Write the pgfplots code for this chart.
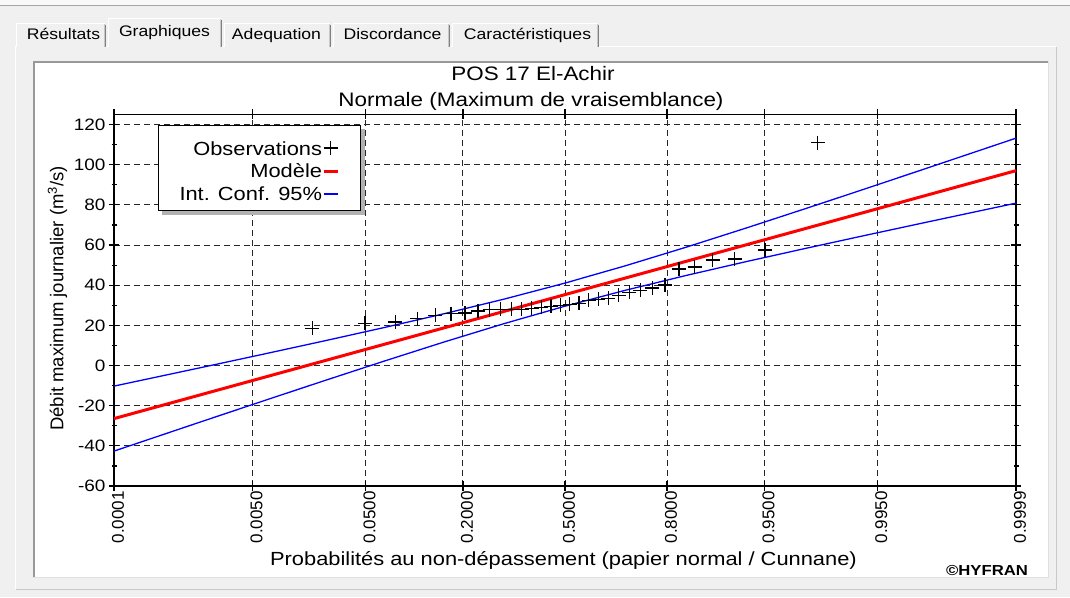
\documentclass[border=0pt]{standalone}
\usepackage{pgfplots}
\pgfplotsset{compat=1.18}
\usepackage{fontspec}
\setmainfont{Liberation Sans}[FakeStretch=1.15]
\newfontfamily\plainsans{Liberation Sans}
\definecolor{winbg}{HTML}{F0F0F0}
\definecolor{tabdark}{HTML}{808080}
\definecolor{tablight}{HTML}{C8C8C8}
\newcommand{\tabfont}{\fontsize{15.3}{15.3}\selectfont}
\newcommand{\tab}[2]{%
  \fill[winbg] (#1,550) rectangle (#2,573);
  \draw[white,line width=1pt] (#1+0.5,550) -- (#1+0.5,573) -- (#2-1,573);
  \draw[tablight,line width=1pt] (#2-1.5,550) -- (#2-1.5,572.5);
  \draw[tabdark,line width=1pt] (#2-0.5,550) -- (#2-0.5,572);
}
\pgfplotsset{
  linelegend/.style={legend image code/.code={\draw[##1] (0pt,6pt) -- (14pt,6pt);}},
  marklegend/.style={legend image code/.code={\draw[##1] plot coordinates {(7pt,7pt)};}},
}
\begin{document}
\begin{tikzpicture}[x=1pt,y=1pt]
\fill[winbg] (0,0) rectangle (1070,597);
\useasboundingbox (0,0) rectangle (1070,597);
% top strip
\fill[white!60!winbg] (0,592) rectangle (1070,597);
\draw[gray!70,line width=1pt] (0,591.5) -- (1070,591.5);
% panel
\draw[white,line width=1pt] (15.5,8) -- (15.5,550) -- (1056,550);
\draw[tablight,line width=1pt] (15.5,8) -- (1056,8) -- (1056,550);
% tabs
\tab{16}{106}
\tab{224}{331}
\tab{333}{450}
\tab{452}{599}
% selected tab
\fill[winbg] (108,549) rectangle (222,578);
\draw[white,line width=1pt] (108.5,550) -- (108.5,578) -- (221,578);
\draw[tablight,line width=1pt] (220.5,550) -- (220.5,577.5);
\draw[tabdark,line width=1pt] (221.5,550) -- (221.5,577);
\node[anchor=base,font=\tabfont,inner sep=0pt] at (63.5,557) {Résultats};
\node[anchor=base,font=\tabfont,inner sep=0pt] at (164.5,560) {Graphiques};
\node[anchor=base,font=\tabfont,inner sep=0pt] at (276.5,557) {Adequation};
\node[anchor=base,font=\tabfont,inner sep=0pt] at (392.5,557) {Discordance};
\node[anchor=base,font=\tabfont,inner sep=0pt] at (527.5,557) {Caractéristiques};
% chart box
\fill[white] (33,19) rectangle (1049,536);
\draw[gray!80,line width=2pt] (34,19) -- (34,535) -- (1049,535);
\draw[gray!25,line width=1pt] (33,19.5) -- (1048.5,19.5) -- (1048.5,536);
% titles
\node[anchor=base,inner sep=0pt,font=\fontsize{19.5}{19.5}\selectfont] at (533,516.3) {POS 17 El-Achir};
\node[anchor=base,inner sep=0pt,font=\fontsize{19.5}{19.5}\selectfont] at (531,490.3) {Normale (Maximum de vraisemblance)};
\node[anchor=base,inner sep=0pt,font=\bfseries\fontsize{14.5}{14.5}\selectfont] at (987,22) {©HYFRAN};

\begin{axis}[
  at={(114pt,111pt)}, anchor=south west,
  scale only axis, width=902pt, height=371.5pt,
  xmin=-3.719, xmax=3.719, ymin=-60, ymax=125,
  xtick={-3.719,-2.5758,-1.6449,-0.8416,0,0.8416,1.6449,2.5758,3.719},
  xticklabels={0.0001,0.0050,0.0500,0.2000,0.5000,0.8000,0.9500,0.9950,0.9999},
  ytick={-60,-40,...,120},
  minor y tick num=1,
  /pgf/number format/assume math mode=true,
  grid=major,
  major grid style={black!85,line width=1pt,dash pattern=on 6pt off 4pt},
  axis line style={black,line width=1.5pt},
  tick style={black,line width=1.2pt},
  tick align=center, major tick length=10pt, minor tick length=5pt,
  yticklabel style={font=\fontsize{16.5}{16.5}\selectfont},
  xticklabel style={rotate=90,anchor=east,inner sep=0pt,yshift=-4pt,font=\plainsans\fontsize{17}{17}\selectfont},
  every axis x label/.style={at={(axis description cs:0.4983,-0.2127)},anchor=base,inner sep=0pt},
  every axis y label/.style={at={(axis description cs:-0.0626,0.505)},rotate=90,anchor=center,inner sep=0pt},
  xlabel style={font=\fontsize{19}{19}\selectfont},
  ylabel style={font=\plainsans\fontsize{18.5}{18.5}\selectfont},
  xlabel={Probabilités au non-dépassement (papier normal / Cunnane)},
  ylabel={Débit maximum journalier (m\textsuperscript{3}/s)},
  legend style={
    name=leg,
    at={(axis description cs:0.0488,0.973)}, anchor=north west,
    draw=black, line width=1pt, fill=white,
    inner xsep=21pt, inner ysep=10pt, row sep=2.5pt,
    font=\fontsize{19}{19}\selectfont,
    nodes={inner sep=0pt,text height=20pt,text depth=0pt},
  },
  legend plot pos=right,
  legend cell align=right,
  legend style={cells={anchor=base east}},
]
\addplot[only marks, mark=+, mark size=7pt, black, line width=1.4pt, marklegend]
coordinates {
(-2.083,18.5) (-1.648,21) (-1.400,21.6) (-1.217,23.3) (-1.068,25)
(-0.939,25.8) (-0.824,26.2) (-0.719,27.2) (-0.622,27.8) (-0.530,28)
(-0.442,28) (-0.358,28) (-0.276,28.5) (-0.196,29) (-0.117,29.5)
(-0.039,30) (0.039,30.5) (0.117,31) (0.196,32.5) (0.276,33)
(0.358,33.5) (0.442,35) (0.530,36.5) (0.622,37.5) (0.719,38.5)
(0.824,40) (0.939,48) (1.068,49) (1.217,52.5) (1.400,53)
(1.648,57.5) (2.083,111)
};
\addlegendentry{Observations}
\addplot[red, line width=3pt, linelegend]
coordinates {
(-3.719,-26.44) (-3,-14.5) (-2.5,-6.2) (-2,2.1) (-1.5,10.4) (-1,18.7)
(-0.5,27.0) (0,35.3) (0.5,43.6) (1,51.9) (1.5,60.2) (2,68.5)
(2.5,76.8) (3,85.1) (3.719,97.04)
};
\addlegendentry{Modèle}
\addplot[blue, line width=1.3pt, linelegend]
coordinates {
(-3.719,-10.26) (-3,-1.01) (-2.5,5.48) (-2,12.06) (-1.5,18.78) (-1,25.74)
(-0.5,33.10) (0,41.05) (0.5,49.70) (1,58.94) (1.5,68.58) (2,78.46)
(2.5,88.48) (3,98.59) (3.719,113.22)
};
\addlegendentry{Int. Conf. 95\%}
\addplot[blue, line width=1.3pt, forget plot]
coordinates {
(-3.719,-42.62) (-3,-27.99) (-2.5,-17.88) (-2,-7.86) (-1.5,2.02) (-1,11.66)
(-0.5,20.90) (0,29.55) (0.5,37.50) (1,44.86) (1.5,51.82) (2,58.54)
(2.5,65.12) (3,71.61) (3.719,80.86)
};
\end{axis}
% legend shadow strips (outside the legend box)
\fill[gray!60] ([yshift=-4pt]leg.north east) rectangle ([xshift=4pt,yshift=-4pt]leg.south east);
\fill[gray!60] ([xshift=4pt]leg.south west) rectangle ([xshift=4pt,yshift=-4pt]leg.south east);
\end{tikzpicture}
\end{document}
